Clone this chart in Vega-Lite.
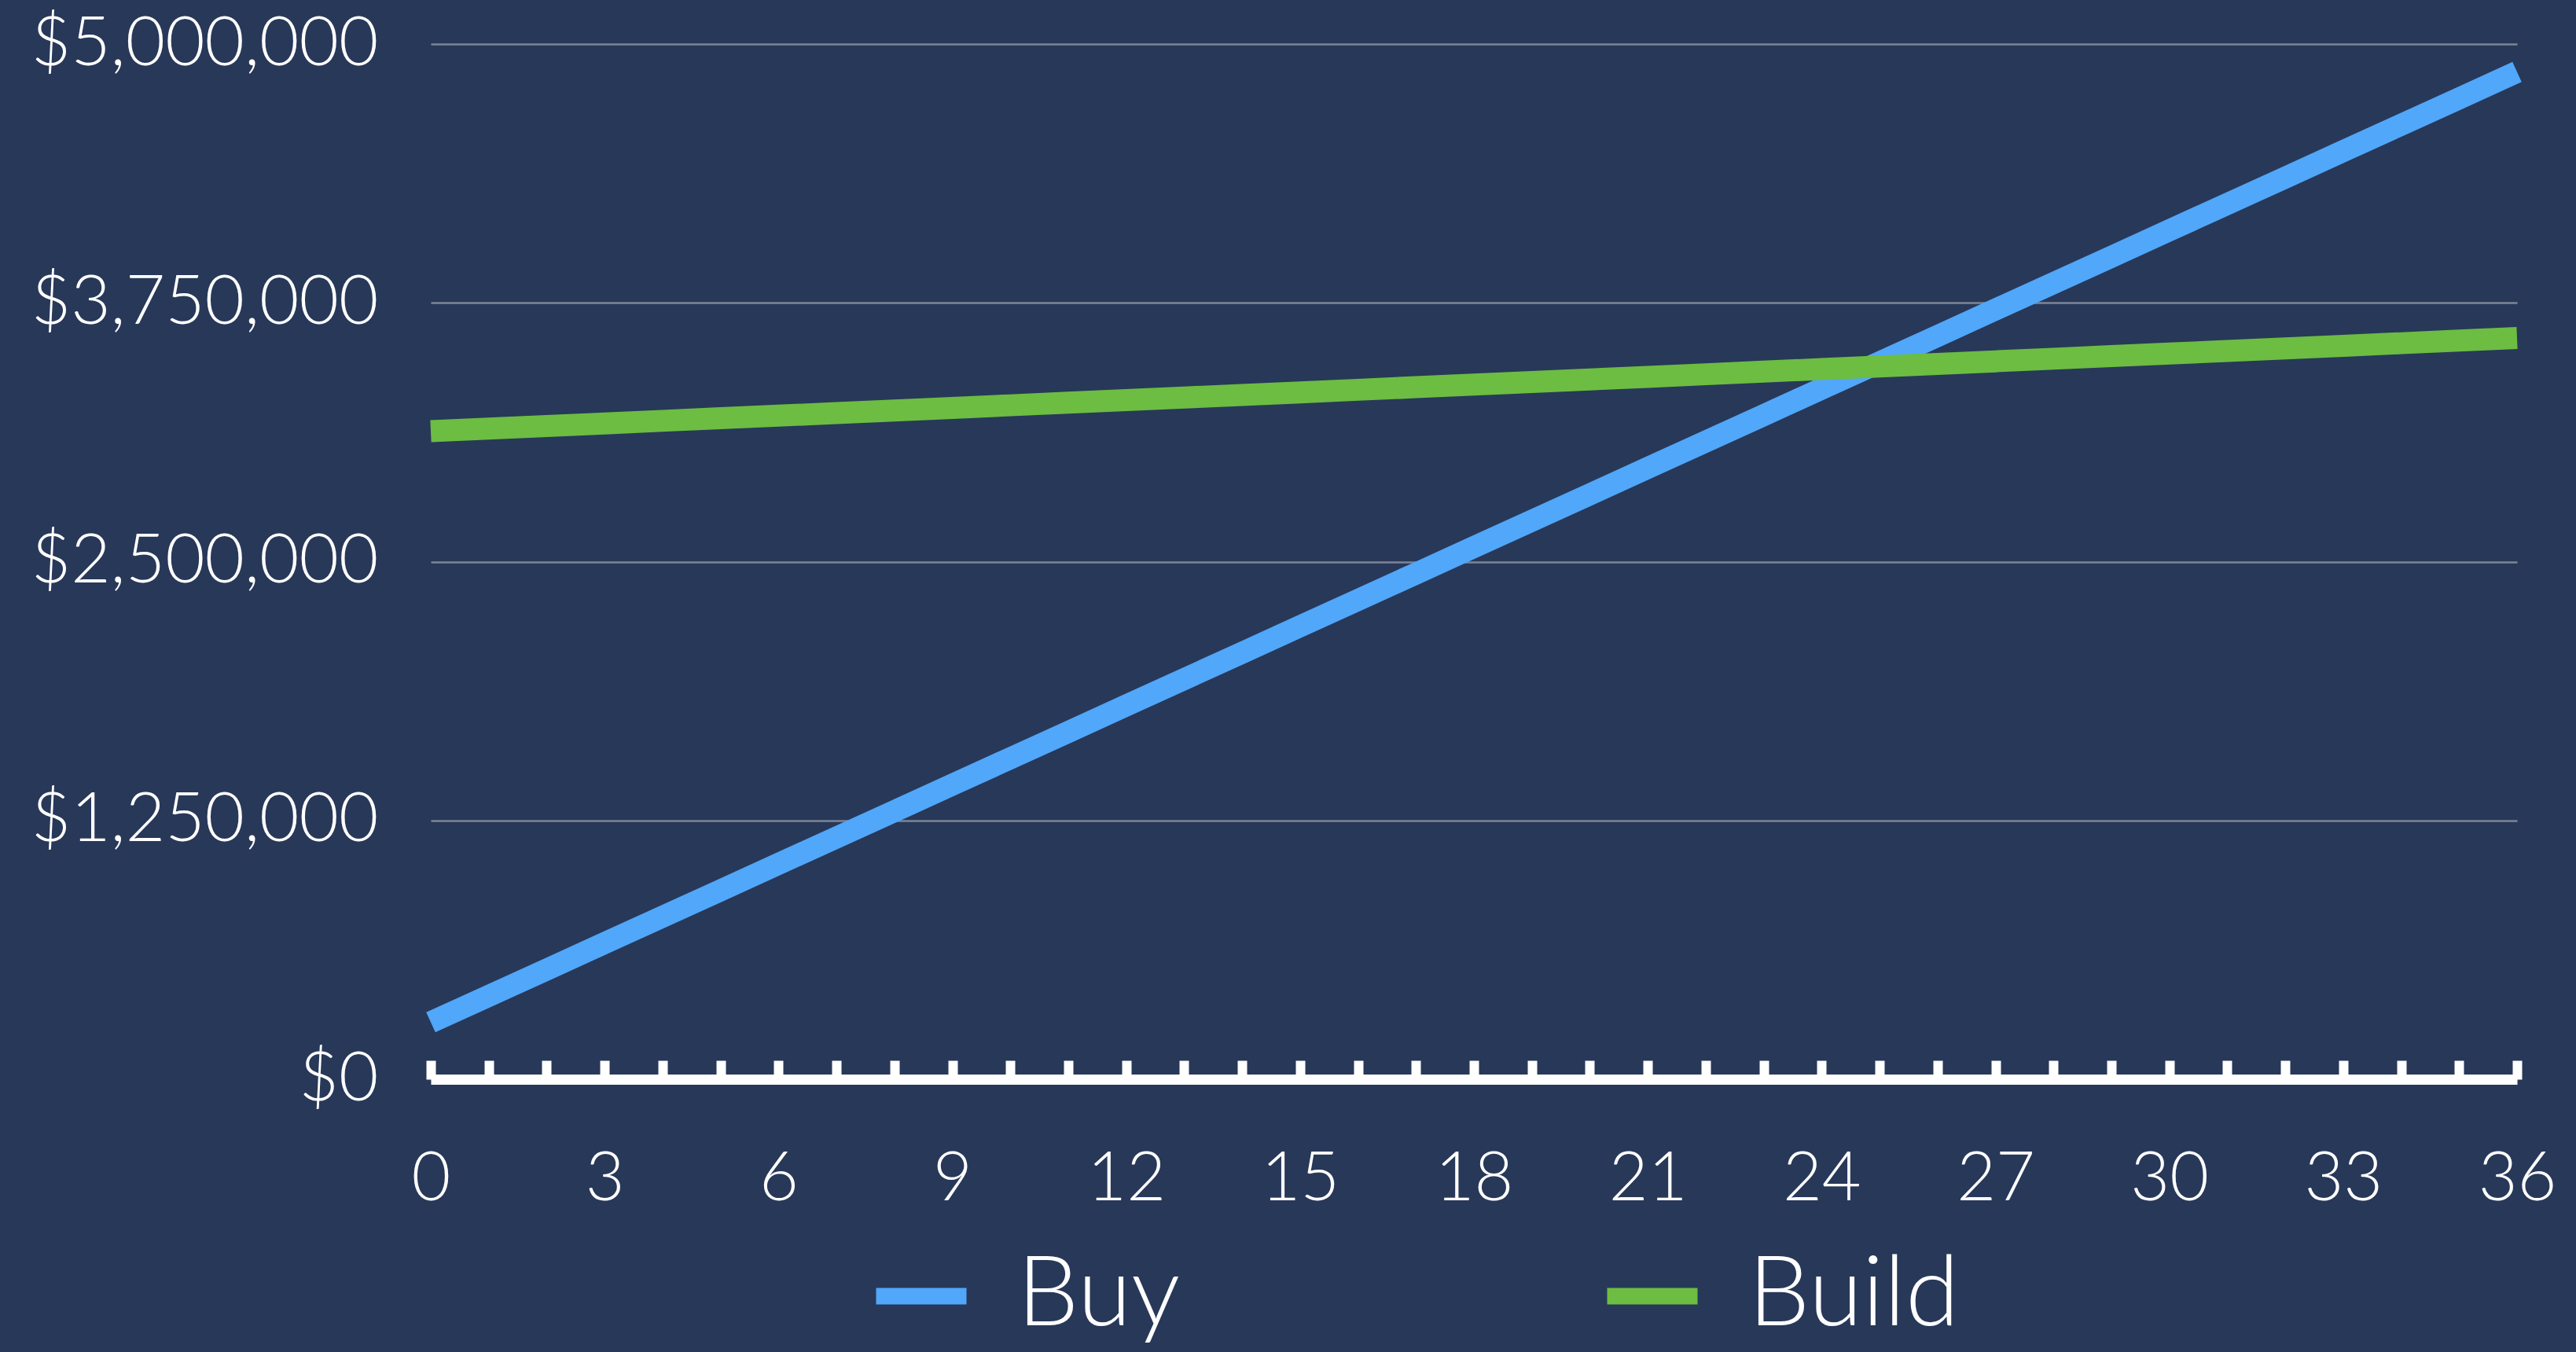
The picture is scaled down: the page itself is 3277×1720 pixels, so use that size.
{
  "$schema": "https://vega.github.io/schema/vega-lite/v6.json",
  "autosize": {"type": "none"},
  "width": 2654,
  "height": 1317,
  "padding": {"left": 548, "top": 56, "right": 75, "bottom": 347},
  "background": "#283859",
  "data": {"values": [
    {"month": 0, "series": "Buy", "value": 275000},
    {"month": 1, "series": "Buy", "value": 402500},
    {"month": 2, "series": "Buy", "value": 530000},
    {"month": 3, "series": "Buy", "value": 657500},
    {"month": 4, "series": "Buy", "value": 785000},
    {"month": 5, "series": "Buy", "value": 912500},
    {"month": 6, "series": "Buy", "value": 1040000},
    {"month": 7, "series": "Buy", "value": 1167500},
    {"month": 8, "series": "Buy", "value": 1295000},
    {"month": 9, "series": "Buy", "value": 1422500},
    {"month": 10, "series": "Buy", "value": 1550000},
    {"month": 11, "series": "Buy", "value": 1677500},
    {"month": 12, "series": "Buy", "value": 1805000},
    {"month": 13, "series": "Buy", "value": 1932500},
    {"month": 14, "series": "Buy", "value": 2060000},
    {"month": 15, "series": "Buy", "value": 2187500},
    {"month": 16, "series": "Buy", "value": 2315000},
    {"month": 17, "series": "Buy", "value": 2442500},
    {"month": 18, "series": "Buy", "value": 2570000},
    {"month": 19, "series": "Buy", "value": 2697500},
    {"month": 20, "series": "Buy", "value": 2825000},
    {"month": 21, "series": "Buy", "value": 2952500},
    {"month": 22, "series": "Buy", "value": 3080000},
    {"month": 23, "series": "Buy", "value": 3207500},
    {"month": 24, "series": "Buy", "value": 3335000},
    {"month": 25, "series": "Buy", "value": 3462500},
    {"month": 26, "series": "Buy", "value": 3590000},
    {"month": 27, "series": "Buy", "value": 3717500},
    {"month": 28, "series": "Buy", "value": 3845000},
    {"month": 29, "series": "Buy", "value": 3972500},
    {"month": 30, "series": "Buy", "value": 4100000},
    {"month": 31, "series": "Buy", "value": 4227500},
    {"month": 32, "series": "Buy", "value": 4355000},
    {"month": 33, "series": "Buy", "value": 4482500},
    {"month": 34, "series": "Buy", "value": 4610000},
    {"month": 35, "series": "Buy", "value": 4737500},
    {"month": 36, "series": "Buy", "value": 4865000},
    {"month": 0, "series": "Build", "value": 3130000},
    {"month": 1, "series": "Build", "value": 3142500},
    {"month": 2, "series": "Build", "value": 3155000},
    {"month": 3, "series": "Build", "value": 3167500},
    {"month": 4, "series": "Build", "value": 3180000},
    {"month": 5, "series": "Build", "value": 3192500},
    {"month": 6, "series": "Build", "value": 3205000},
    {"month": 7, "series": "Build", "value": 3217500},
    {"month": 8, "series": "Build", "value": 3230000},
    {"month": 9, "series": "Build", "value": 3242500},
    {"month": 10, "series": "Build", "value": 3255000},
    {"month": 11, "series": "Build", "value": 3267500},
    {"month": 12, "series": "Build", "value": 3280000},
    {"month": 13, "series": "Build", "value": 3292500},
    {"month": 14, "series": "Build", "value": 3305000},
    {"month": 15, "series": "Build", "value": 3317500},
    {"month": 16, "series": "Build", "value": 3330000},
    {"month": 17, "series": "Build", "value": 3342500},
    {"month": 18, "series": "Build", "value": 3355000},
    {"month": 19, "series": "Build", "value": 3367500},
    {"month": 20, "series": "Build", "value": 3380000},
    {"month": 21, "series": "Build", "value": 3392500},
    {"month": 22, "series": "Build", "value": 3405000},
    {"month": 23, "series": "Build", "value": 3417500},
    {"month": 24, "series": "Build", "value": 3430000},
    {"month": 25, "series": "Build", "value": 3442500},
    {"month": 26, "series": "Build", "value": 3455000},
    {"month": 27, "series": "Build", "value": 3467500},
    {"month": 28, "series": "Build", "value": 3480000},
    {"month": 29, "series": "Build", "value": 3492500},
    {"month": 30, "series": "Build", "value": 3505000},
    {"month": 31, "series": "Build", "value": 3517500},
    {"month": 32, "series": "Build", "value": 3530000},
    {"month": 33, "series": "Build", "value": 3542500},
    {"month": 34, "series": "Build", "value": 3555000},
    {"month": 35, "series": "Build", "value": 3567500},
    {"month": 36, "series": "Build", "value": 3580000}
  ]},
  "mark": {"type": "line", "strokeWidth": 28, "strokeCap": "butt", "strokeJoin": "miter"},
  "encoding": {
    "x": {
      "field": "month", "type": "quantitative",
      "scale": {"domain": [0, 36], "nice": false, "zero": false},
      "axis": {
        "title": null,
        "grid": false,
        "values": [0,1,2,3,4,5,6,7,8,9,10,11,12,13,14,15,16,17,18,19,20,21,22,23,24,25,26,27,28,29,30,31,32,33,34,35,36],
        "labelExpr": "datum.value % 3 === 0 ? datum.label : ''",
        "domainColor": "#ffffff",
        "domainWidth": 13,
        "domainCap": "butt",
        "tickColor": "#ffffff",
        "tickWidth": 12,
        "tickSize": -24,
        "tickCap": "butt",
        "labelColor": "#ffffff",
        "labelFont": "Lato",
        "labelFontWeight": 300,
        "labelFontSize": 86,
        "labelPadding": 151,
        "labelBaseline": "middle",
        "labelFlush": false,
        "labelOverlap": false,
        "labelLimit": 1000
      }
    },
    "y": {
      "field": "value", "type": "quantitative",
      "scale": {"domain": [0, 5000000], "nice": false},
      "axis": {
        "title": null,
        "values": [0, 1250000, 2500000, 3750000, 5000000],
        "format": "$,.0f",
        "domain": false,
        "ticks": false,
        "grid": true,
        "gridColor": "#7d8597",
        "gridWidth": 2.5,
        "labelColor": "#ffffff",
        "labelFont": "Lato",
        "labelFontWeight": 300,
        "labelFontSize": 87,
        "labelPadding": 67,
        "labelFlush": false,
        "labelOverlap": false,
        "labelLimit": 1000
      }
    },
    "color": {
      "field": "series", "type": "nominal",
      "scale": {"domain": ["Buy", "Build"], "range": ["#51A7F9", "#6CBD42"]},
      "legend": {
        "title": null,
        "orient": "none",
        "direction": "horizontal",
        "legendX": 556,
        "legendY": 1525,
        "padding": 0,
        "symbolType": "stroke",
        "symbolSize": 13225,
        "symbolStrokeWidth": 21,
        "labelFont": "Lato",
        "labelFontWeight": 300,
        "labelFontSize": 124,
        "labelColor": "#ffffff",
        "labelOffset": 54,
        "columnPadding": 500,
        "labelLimit": 1000
      }
    }
  },
  "config": {
    "view": {"stroke": null}
  }
}
